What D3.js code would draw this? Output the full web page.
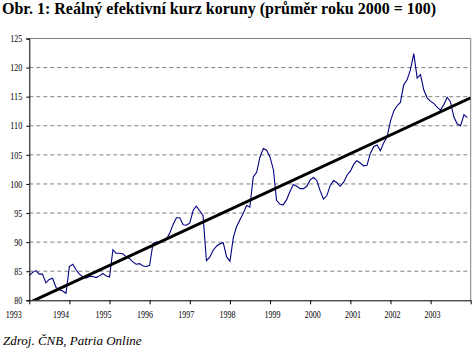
<!DOCTYPE html>
<html>
<head>
<meta charset="utf-8">
<script src="https://cdn.jsdelivr.net/npm/d3@7"></script>
<style>
  body { margin: 0; background: #fff; }
  svg { display: block; }
  .tick text { font-family: "Liberation Serif", "Times New Roman", serif; }
</style>
</head>
<body>
<div id="graph"></div>
<script>
// Real effective exchange rate of the koruna, monthly, 2000 avg = 100
var startYear = 1993;
var rek = [
  // 1993
  84.3, 84.8, 85.1, 84.5, 84.5, 83.0, 83.6, 83.8, 82.2, 81.8, 81.6, 81.2,
  // 1994
  85.8, 86.2, 85.3, 84.5, 84.1, 83.8, 84.1, 84.1, 83.9, 84.2, 84.6, 84.2,
  // 1995
  84.0, 88.7, 88.1, 88.1, 88.0, 87.5, 87.2, 86.6, 86.2, 86.3, 85.9, 85.8,
  // 1996
  86.0, 89.8, 90.0, 89.9, 90.1, 90.5, 91.5, 93.0, 94.2, 94.2, 93.0, 92.9,
  // 1997
  93.3, 95.5, 96.2, 95.4, 94.6, 86.8, 87.4, 88.6, 89.3, 89.7, 89.9, 87.5,
  // 1998
  86.7, 90.8, 92.6, 93.8, 94.9, 96.3, 96.0, 101.2, 102.0, 104.6, 106.1, 105.8,
  // 1999
  104.6, 102.4, 97.2, 96.5, 96.4, 97.3, 98.7, 99.9, 99.6, 99.2, 99.2, 99.6,
  // 2000
  100.7, 101.1, 100.6, 98.8, 97.4, 98.0, 99.7, 100.6, 100.2, 99.6, 100.3, 101.5,
  // 2001
  102.2, 103.4, 104.0, 103.6, 103.1, 103.2, 105.2, 106.4, 106.7, 105.7, 107.1, 108.1,
  // 2002
  110.8, 112.6, 113.4, 114.0, 117.0, 117.9, 119.6, 122.4, 118.2, 118.8, 116.1, 114.8,
  // 2003
  114.2, 113.8, 113.2, 112.7, 113.6, 114.9, 114.1, 111.5, 110.3, 110.0, 111.9, 111.4
];
// linear trend, value at start (Jan 1993) and end (Jan 2004)
var trendYears = [1993, 2004];
var trendValues = [79.6, 114.8];
var yTicks = [80, 85, 90, 95, 100, 105, 110, 115, 120, 125];
var yearLabels = ["1993", "1994", "1995", "1996", "1997", "1998", "1999", "2000", "2001", "2002", "2003"];
var title = "Obr. 1: Reálný efektivní kurz koruny (průměr roku 2000 = 100)";
var source = "Zdroj. ČNB, Patria Online";

var width = 474, height = 358;
var plotLeft = 29.3, plotRight = 470.7, plotTop = 38.5, plotBottom = 300.3;
// the original's year labels drift left of their ticks early on
var labelNudge = [-16, -9, -6.5, -5, -4, -3, 2, 2, 2, 1.5, 1.5];

var svg = d3.select("#graph").append("svg")
    .attr("width", width)
    .attr("height", height);

var xScale = d3.scaleTime()
    .domain([new Date(1993, 0, 1), new Date(2004, 0, 1)])
    .range([plotLeft, plotRight]);
var yScale = d3.scaleLinear().domain([80, 125]).range([plotBottom, plotTop]);

var data = rek.map(function(v, i) {
    return { date: new Date(startYear, i, 1), value: v };
});

svg.append("text")
    .attr("x", 2)
    .attr("y", 14)
    .style("font-family", "'Liberation Serif', 'Times New Roman', serif")
    .style("font-weight", "bold")
    .style("font-size", "16px")
    .text(title);

// gridlines
svg.append("g")
    .selectAll("line")
    .data(yTicks.filter(function(d) { return d > 80 && d < 125; }))
    .enter().append("line")
    .attr("x1", plotLeft).attr("x2", plotRight)
    .attr("y1", function(d) { return yScale(d); })
    .attr("y2", function(d) { return yScale(d); })
    .attr("stroke", "#808080")
    .attr("stroke-dasharray", "4,3");

// top and right border of plot area
svg.append("path")
    .attr("d", "M" + plotLeft + "," + yScale(125) + "H" + plotRight + "V" + plotBottom)
    .attr("fill", "none")
    .attr("stroke", "#808080");

svg.append("clipPath").attr("id", "plot")
    .append("rect")
    .attr("x", plotLeft).attr("y", plotTop)
    .attr("width", plotRight - plotLeft).attr("height", plotBottom - plotTop);

var line = d3.line()
    .x(function(d) { return xScale(d.date); })
    .y(function(d) { return yScale(d.value); });

svg.append("path")
    .datum(data)
    .attr("clip-path", "url(#plot)")
    .attr("fill", "none")
    .attr("stroke", "#000080")
    .attr("stroke-width", 1.1)
    .attr("d", line);

var trend = trendYears.map(function(y, i) {
    return { date: new Date(y, 0, 1), value: trendValues[i] };
});
svg.append("path")
    .datum(trend)
    .attr("clip-path", "url(#plot)")
    .attr("fill", "none")
    .attr("stroke", "#000")
    .attr("stroke-width", 3)
    .attr("d", line);

// y axis
var yAxis = d3.axisLeft(yScale)
    .tickValues(yTicks)
    .tickSize(3)
    .tickPadding(4)
    .tickFormat(d3.format("d"));
var gy = svg.append("g")
    .attr("transform", "translate(" + plotLeft + ",0)")
    .call(yAxis);
gy.select(".domain").attr("stroke", "#000");
gy.selectAll("text")
    .style("font-size", "10px")
    .attr("textLength", function(d) { return String(d).length * 4; })
    .attr("lengthAdjust", "spacingAndGlyphs");

// x axis
var xAxis = d3.axisBottom(xScale)
    .tickValues(d3.range(1993, 2005).map(function(y) { return new Date(y, 0, 1); }))
    .tickSize(4)
    .tickSizeOuter(0)
    .tickFormat(function(d, i) { return yearLabels[i] || ""; });
var gx = svg.append("g")
    .attr("transform", "translate(0," + plotBottom + ")")
    .call(xAxis);
gx.select(".domain").attr("stroke", "#000");
gx.selectAll("text")
    .style("font-size", "10px")
    .attr("y", 18)
    .attr("dy", 0)
    .attr("dx", function(d, i) { return labelNudge[i] || 0; })
    .attr("textLength", function(d, i) { return yearLabels[i] ? 16 : null; })
    .attr("lengthAdjust", "spacingAndGlyphs");

svg.append("text")
    .attr("x", 3)
    .attr("y", 345)
    .style("font-family", "'Liberation Serif', 'Times New Roman', serif")
    .style("font-style", "italic")
    .style("font-size", "13px")
    .text(source);
</script>
</body>
</html>
